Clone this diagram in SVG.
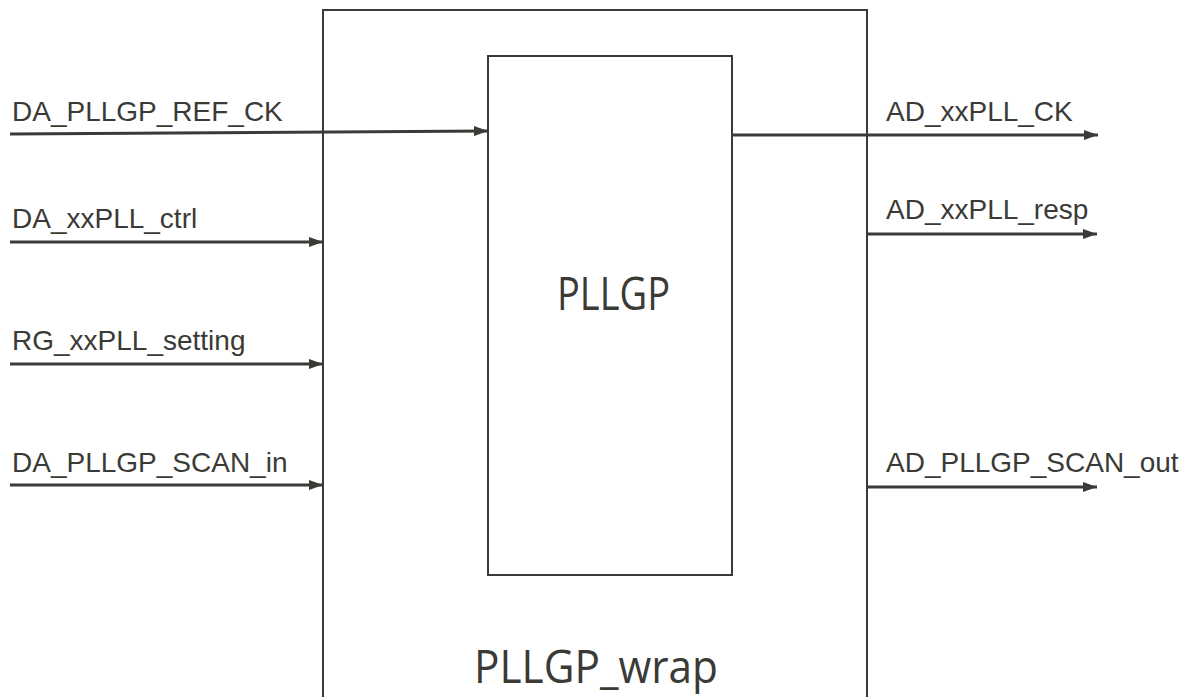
<svg xmlns="http://www.w3.org/2000/svg" width="1191" height="697" viewBox="0 0 1191 697">
<style>
.box{fill:none;stroke:#3a3a36;stroke-width:2}
.wire{stroke:#3a3a36;stroke-width:3;fill:none}
.lbl{font-family:"Liberation Sans",Arial,sans-serif;font-size:28px;fill:#3a3a36}
.title{font-family:"Open Sans","Noto Sans",sans-serif;font-size:46px;fill:#3a3a36}
</style>
<defs>
<marker id="ah" viewBox="0 0 14 10" refX="14" refY="5" markerWidth="14" markerHeight="10" markerUnits="userSpaceOnUse" orient="auto">
<path d="M0,0 L14,5 L0,10 Z" fill="#3a3a36"/>
</marker>
</defs>
<rect width="1191" height="697" fill="#ffffff"/>
<g id="wrap">
<rect class="box" x="323" y="10" width="544" height="700"/>
<text class="title" x="474" y="683" textLength="244" lengthAdjust="spacingAndGlyphs">PLLGP_wrap</text>
</g>
<g id="pllgp">
<rect class="box" x="488" y="56" width="244" height="519"/>
<text class="title" x="557" y="310" textLength="113" lengthAdjust="spacingAndGlyphs">PLLGP</text>
</g>
<g id="connectors">
<line class="wire" x1="10" y1="134" x2="488" y2="131" marker-end="url(#ah)"/>
<line class="wire" x1="10" y1="242" x2="323" y2="242" marker-end="url(#ah)"/>
<line class="wire" x1="10" y1="364" x2="323" y2="364" marker-end="url(#ah)"/>
<line class="wire" x1="10" y1="485" x2="323" y2="485" marker-end="url(#ah)"/>
<line class="wire" x1="732" y1="135" x2="1098" y2="135" marker-end="url(#ah)"/>
<line class="wire" x1="867" y1="234" x2="1097" y2="234" marker-end="url(#ah)"/>
<line class="wire" x1="867" y1="487" x2="1097" y2="487" marker-end="url(#ah)"/>
</g>
<g id="labels">
<text class="lbl" x="12" y="121">DA_PLLGP_REF_CK</text>
<text class="lbl" x="12" y="228">DA_xxPLL_ctrl</text>
<text class="lbl" x="12" y="350">RG_xxPLL_setting</text>
<text class="lbl" x="12" y="472">DA_PLLGP_SCAN_in</text>
<text class="lbl" x="886" y="121">AD_xxPLL_CK</text>
<text class="lbl" x="886" y="219">AD_xxPLL_resp</text>
<text class="lbl" x="886" y="472">AD_PLLGP_SCAN_out</text>
</g>
</svg>
